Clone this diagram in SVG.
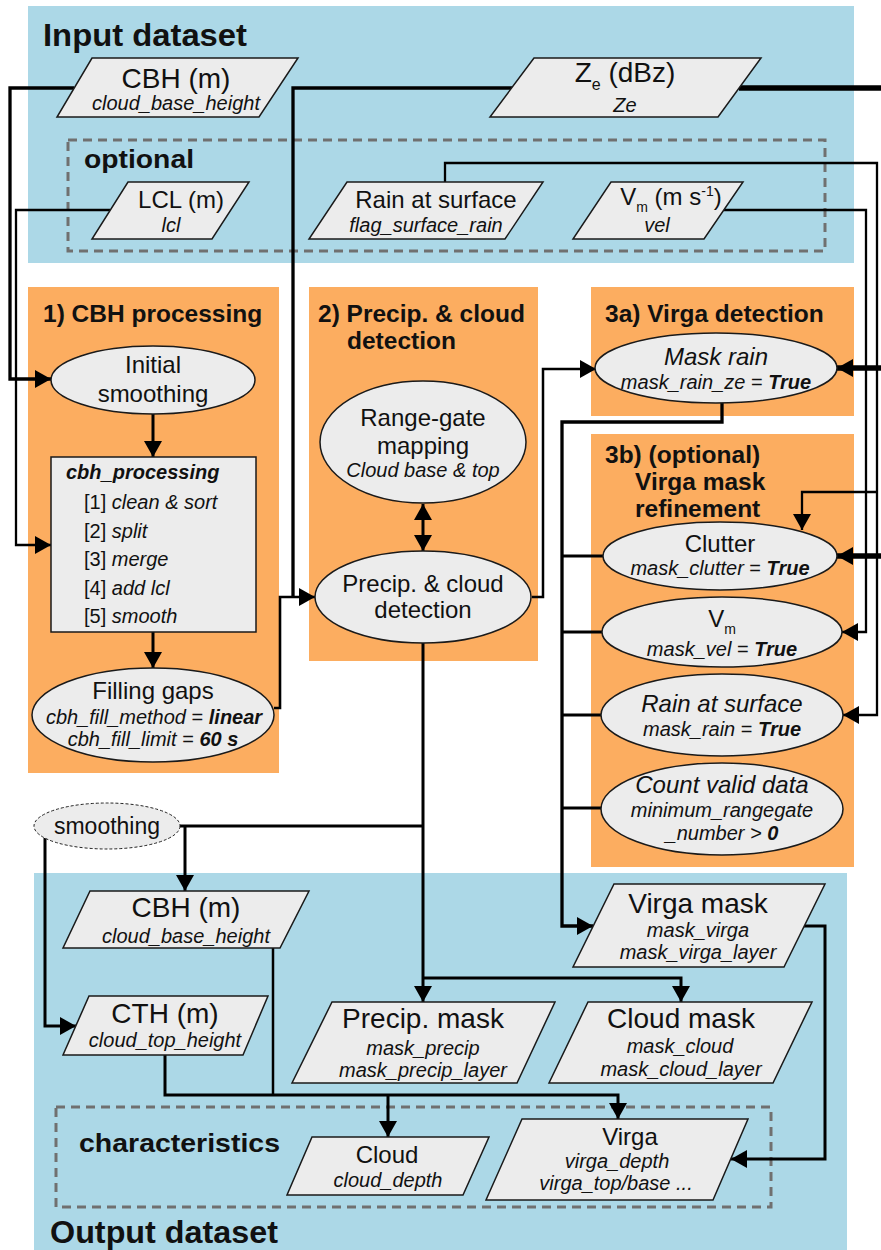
<svg xmlns="http://www.w3.org/2000/svg" width="881" height="1250" viewBox="0 0 881 1250">
<defs>
<style>
.bg-blue{fill:#acd8e7}
.bg-or{fill:#fcad60}
.n{fill:#ececec;stroke:#1a1a1a;stroke-width:1.5}
.dash{fill:none;stroke:#707070;stroke-width:3;stroke-dasharray:9 6}
text{font-family:"Liberation Sans",Arial,sans-serif;fill:#111}
.ti{font-weight:bold}
.c{text-anchor:middle}
.i{font-style:italic}
.b{font-weight:bold;font-style:italic}
.s20{font-size:20px}
.s24{font-size:24px}
.s28{font-size:28px}
.sec{font-size:24.5px;font-weight:bold}
.w{fill:none;stroke:#000;stroke-linejoin:miter}
</style>
<marker id="ah" markerUnits="userSpaceOnUse" markerWidth="16" markerHeight="18" refX="16" refY="9" orient="auto-start-reverse">
<path d="M0,0 L16,9 L0,18 z" fill="#000"/>
</marker>
</defs>

<!-- backgrounds -->
<g id="input-dataset">
<rect class="bg-blue" x="28" y="6" width="826" height="257"/>
<text class="ti" x="43" y="46" font-size="32" textLength="204" lengthAdjust="spacingAndGlyphs">Input dataset</text>
<rect class="dash" x="68" y="140" width="757" height="111"/>
<text class="ti" x="84" y="168" font-size="26" textLength="110" lengthAdjust="spacingAndGlyphs">optional</text>
</g>
<g id="section1">
<rect class="bg-or" x="28" y="287" width="251" height="486"/>
<text class="sec" x="43" y="322">1) CBH processing</text>
</g>
<g id="section2">
<rect class="bg-or" x="309" y="287" width="229" height="374"/>
<text class="sec" x="318" y="322">2) Precip. &amp; cloud</text>
<text class="sec" x="347" y="349">detection</text>
</g>
<g id="section3a">
<rect class="bg-or" x="591" y="287" width="263" height="129"/>
<text class="sec" x="605" y="322">3a) Virga detection</text>
</g>
<g id="section3b">
<rect class="bg-or" x="591" y="434" width="263" height="433"/>
<text class="sec" x="605" y="463">3b) (optional)</text>
<text class="sec" x="635" y="490">Virga mask</text>
<text class="sec" x="635" y="517">refinement</text>
</g>
<g id="output-dataset">
<rect class="bg-blue" x="34" y="873" width="813" height="377"/>
<rect class="dash" x="56" y="1107" width="715" height="100"/>
<text class="ti" x="79" y="1152" font-size="26" textLength="201" lengthAdjust="spacingAndGlyphs">characteristics</text>
<text class="ti" x="50" y="1243" font-size="31" textLength="228" lengthAdjust="spacingAndGlyphs">Output dataset</text>
</g>

<!-- connectors -->
<g id="connectors" class="w">
<path d="M74,88 H10 V379 H51" stroke-width="3.3" marker-end="url(#ah)"/>
<path d="M110,210 H16 V545 H51" stroke-width="2.3" marker-end="url(#ah)"/>
<path d="M512,88 H293 V597" stroke-width="3.3"/>
<path d="M274,708 H280 V597 H315" stroke-width="2.6" marker-end="url(#ah)"/>
<path d="M739,88 H884 V556 H837" stroke-width="5.5" marker-end="url(#ah)"/>
<path d="M884,368 H837" stroke-width="5.5" marker-end="url(#ah)"/>
<path d="M445,182 V163 H877 V715 H843" stroke-width="2.3" marker-end="url(#ah)"/>
<path d="M877,492 H802 V530" stroke-width="2.3" marker-end="url(#ah)"/>
<path d="M724,210 H866 V632 H842" stroke-width="2.3" marker-end="url(#ah)"/>
<path d="M153,414 V457" stroke-width="3" marker-end="url(#ah)"/>
<path d="M153,632 V668" stroke-width="3" marker-end="url(#ah)"/>
<path d="M423,504 V551" stroke-width="3" marker-start="url(#ah)" marker-end="url(#ah)"/>
<path d="M532,597 H543 V369 H596" stroke-width="2.5" marker-end="url(#ah)"/>
<path d="M722,403 V422 H562 V926 H593" stroke-width="3.3" marker-end="url(#ah)"/>
<path d="M603,556 H562 M602,632 H562 M602,715 H562 M602,808 H562" stroke-width="3"/>
<path d="M423,643 V1002" stroke-width="3" marker-end="url(#ah)"/>
<path d="M423,978 H681 V1002" stroke-width="3" marker-end="url(#ah)"/>
<path d="M180,826 H423" stroke-width="3"/>
<path d="M185,826 V891" stroke-width="3" marker-end="url(#ah)"/>
<path d="M45,838 V1026 H76" stroke-width="3" marker-end="url(#ah)"/>
<path d="M273,948 V1095" stroke-width="2.5"/>
<path d="M165,1055 V1095 H618 V1119" stroke-width="3" marker-end="url(#ah)"/>
<path d="M388,1095 V1137" stroke-width="3" marker-end="url(#ah)"/>
<path d="M804,926 H825 V1159 H731" stroke-width="3" marker-end="url(#ah)"/>
</g>

<!-- input nodes -->
<g id="in-cbh">
<polygon class="n" points="92,58 298,58 259,117 57,117"/>
<text class="c s28" x="176" y="88">CBH (m)</text>
<text class="c i s20" x="176" y="110">cloud_base_height</text>
</g>
<g id="in-ze">
<polygon class="n" points="534,58 761,58 718,117 490,117"/>
<text class="c s28" x="625" y="82">Z<tspan font-size="16" dy="8">e</tspan><tspan dy="-8"> (dBz)</tspan></text>
<text class="c i s20" x="625" y="112">Ze</text>
</g>
<g id="in-lcl">
<polygon class="n" points="128,182 249,182 212,239 92,239"/>
<text class="c s24" x="181" y="208">LCL (m)</text>
<text class="c i s20" x="171" y="232">lcl</text>
</g>
<g id="in-rain">
<polygon class="n" points="347,182 543,182 505,239 309,239"/>
<text class="c s24" x="436" y="208">Rain at surface</text>
<text class="c i s20" x="426" y="232">flag_surface_rain</text>
</g>
<g id="in-vel">
<polygon class="n" points="611,182 743,182 704,239 573,239"/>
<text class="c s24" x="671" y="205">V<tspan font-size="14" dy="7">m</tspan><tspan dy="-7"> (m s</tspan><tspan font-size="14" dy="-9">-1</tspan><tspan dy="9">)</tspan></text>
<text class="c i s20" x="657" y="232">vel</text>
</g>

<!-- section 1 nodes -->
<g id="initial-smoothing">
<ellipse class="n" cx="153" cy="380" rx="102" ry="34"/>
<text class="c s24" x="153" y="373">Initial</text>
<text class="c s24" x="153" y="402">smoothing</text>
</g>
<g id="cbh-processing">
<rect class="n" x="51" y="457" width="205" height="175"/>
<text class="b s20" x="66" y="479">cbh_processing</text>
<text class="s20" x="84" y="509">[1] <tspan class="i">clean &amp; sort</tspan></text>
<text class="s20" x="84" y="538">[2] <tspan class="i">split</tspan></text>
<text class="s20" x="84" y="566">[3] <tspan class="i">merge</tspan></text>
<text class="s20" x="84" y="595">[4] <tspan class="i">add lcl</tspan></text>
<text class="s20" x="84" y="623">[5] <tspan class="i">smooth</tspan></text>
</g>
<g id="filling-gaps">
<ellipse class="n" cx="153" cy="715" rx="121" ry="47"/>
<text class="c s24" x="153" y="699">Filling gaps</text>
<text class="c s20" x="154" y="724"><tspan class="i">cbh_fill_method</tspan> = <tspan class="b">linear</tspan></text>
<text class="c s20" x="153" y="746"><tspan class="i">cbh_fill_limit</tspan> = <tspan class="b">60 s</tspan></text>
</g>

<!-- section 2 nodes -->
<g id="range-gate">
<ellipse class="n" cx="423" cy="442" rx="103" ry="61"/>
<text class="c s24" x="423" y="426">Range-gate</text>
<text class="c s24" x="423" y="454">mapping</text>
<text class="c i s20" x="423" y="477">Cloud base &amp; top</text>
</g>
<g id="precip-detection">
<ellipse class="n" cx="423" cy="597" rx="108" ry="46"/>
<text class="c s24" x="423" y="592">Precip. &amp; cloud</text>
<text class="c s24" x="423" y="618">detection</text>
</g>

<!-- section 3 nodes -->
<g id="mask-rain">
<ellipse class="n" cx="716" cy="368" rx="121" ry="35"/>
<text class="c i s24" x="716" y="365">Mask rain</text>
<text class="c s20" x="716" y="389"><tspan class="i">mask_rain_ze</tspan> = <tspan class="b">True</tspan></text>
</g>
<g id="clutter">
<ellipse class="n" cx="720" cy="556" rx="117" ry="34"/>
<text class="c s24" x="720" y="552">Clutter</text>
<text class="c s20" x="720" y="575"><tspan class="i">mask_clutter</tspan> = <tspan class="b">True</tspan></text>
</g>
<g id="vm">
<ellipse class="n" cx="722" cy="632" rx="120" ry="35"/>
<text class="c s24" x="722" y="627">V<tspan font-size="14" dy="7">m</tspan></text>
<text class="c s20" x="722" y="656"><tspan class="i">mask_vel</tspan> = <tspan class="b">True</tspan></text>
</g>
<g id="rain-surface">
<ellipse class="n" cx="722" cy="715" rx="121" ry="41"/>
<text class="c i s24" x="722" y="712">Rain at surface</text>
<text class="c s20" x="722" y="736"><tspan class="i">mask_rain</tspan> = <tspan class="b">True</tspan></text>
</g>
<g id="count-valid">
<ellipse class="n" cx="722" cy="809" rx="121" ry="46"/>
<text class="c i s24" x="722" y="793">Count valid data</text>
<text class="c i s20" x="722" y="817">minimum_rangegate</text>
<text class="c s20" x="722" y="840"><tspan class="i">_number &gt;</tspan> <tspan class="b">0</tspan></text>
</g>

<!-- smoothing -->
<g id="smoothing">
<ellipse cx="107" cy="826" rx="73" ry="23" fill="#ececec" stroke="#222" stroke-width="1" stroke-dasharray="3 2"/>
<text class="c" x="107" y="834" font-size="23">smoothing</text>
</g>

<!-- output nodes -->
<g id="out-cbh">
<polygon class="n" points="90,891 309,891 280,948 63,948"/>
<text class="c s28" x="186" y="917">CBH (m)</text>
<text class="c i s20" x="186" y="943">cloud_base_height</text>
</g>
<g id="out-cth">
<polygon class="n" points="89,996 268,996 243,1055 63,1055"/>
<text class="c s28" x="165" y="1023">CTH (m)</text>
<text class="c i s20" x="165" y="1047">cloud_top_height</text>
</g>
<g id="out-virga-mask">
<polygon class="n" points="614,884 825,884 784,967 573,967"/>
<text class="c s28" x="698" y="913">Virga mask</text>
<text class="c i s20" x="698" y="937">mask_virga</text>
<text class="c i s20" x="698" y="959">mask_virga_layer</text>
</g>
<g id="out-precip-mask">
<polygon class="n" points="332,1002 555,1002 517,1083 292,1083"/>
<text class="c s28" x="423" y="1028">Precip. mask</text>
<text class="c i s20" x="423" y="1055">mask_precip</text>
<text class="c i s20" x="423" y="1077">mask_precip_layer</text>
</g>
<g id="out-cloud-mask">
<polygon class="n" points="588,1002 812,1002 773,1083 549,1083"/>
<text class="c s28" x="681" y="1028">Cloud mask</text>
<text class="c i s20" x="680" y="1053">mask_cloud</text>
<text class="c i s20" x="681" y="1076">mask_cloud_layer</text>
</g>
<g id="char-cloud">
<polygon class="n" points="312,1137 489,1137 463,1195 287,1195"/>
<text class="c s24" x="387" y="1163">Cloud</text>
<text class="c i s20" x="388" y="1187">cloud_depth</text>
</g>
<g id="char-virga">
<polygon class="n" points="522,1119 748,1119 713,1200 486,1200"/>
<text class="c s24" x="630" y="1145">Virga</text>
<text class="c i s20" x="617" y="1168">virga_depth</text>
<text class="c i s20" x="616" y="1190">virga_top/base ...</text>
</g>
</svg>
